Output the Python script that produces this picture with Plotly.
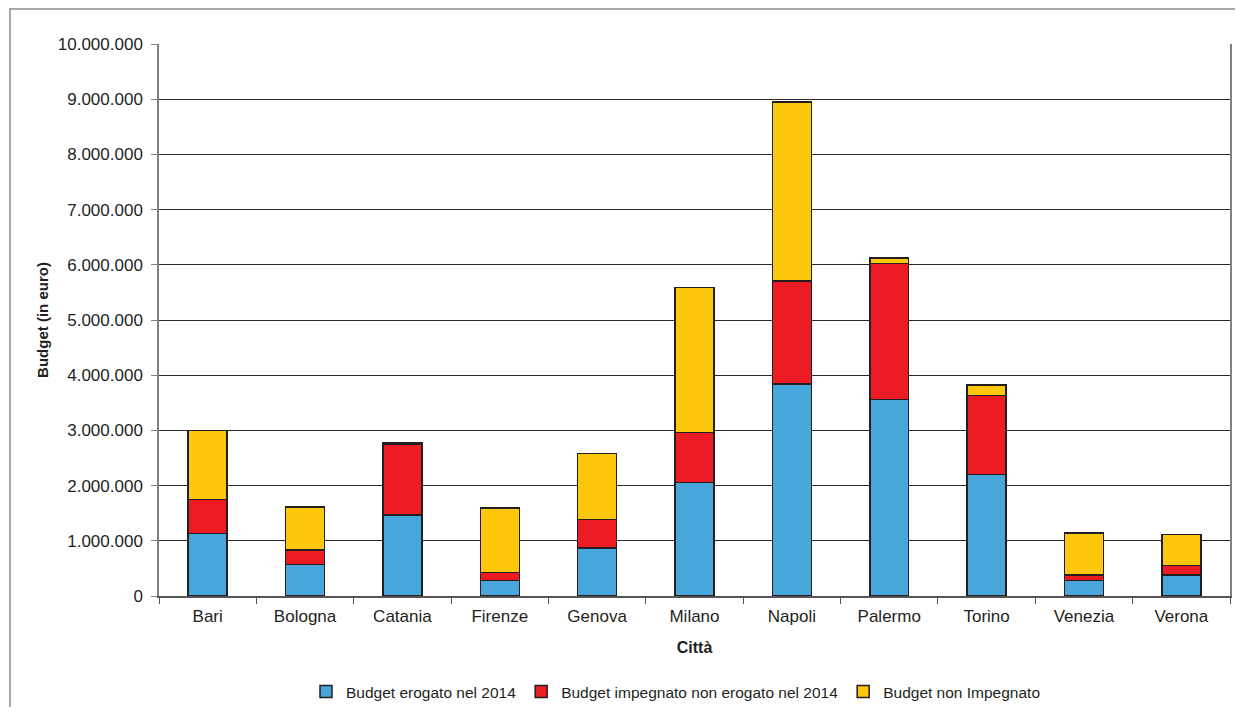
import plotly.graph_objects as go

cities = ["Bari", "Bologna", "Catania", "Firenze", "Genova", "Milano",
          "Napoli", "Palermo", "Torino", "Venezia", "Verona"]
erogato = [1130000, 574000, 1467000, 284000, 870000, 2060000,
           3840000, 3563000, 2200000, 281000, 379000]
impegnato_non_erogato = [620000, 260000, 1290000, 146000, 520000, 905000,
                         1870000, 2464000, 1430000, 98000, 171000]
non_impegnato = [1245000, 776000, 15000, 1160000, 1190000, 2620000,
                 3240000, 98000, 196000, 758000, 562000]

series_names = ["Budget erogato nel 2014",
                "Budget impegnato non erogato nel 2014",
                "Budget non Impegnato"]
series_values = [erogato, impegnato_non_erogato, non_impegnato]
series_colors = ["#49A6DB", "#ED1C24", "#FDC70C"]

y_ticks = list(range(0, 10000001, 1000000))

fig = go.Figure()
for name, vals, col in zip(series_names, series_values, series_colors):
    fig.add_trace(go.Bar(
        x=cities, y=vals, name=name,
        marker=dict(color=col, line=dict(color="#231F20", width=1.5)),
    ))

# page body has an 8px margin; keep the figure inside the viewport
OFF = 8
W, H = 1243 - 2 * OFF, 715 - 2 * OFF
L, R, T, B = 159 - OFF, 1230 - OFF, 44 - OFF, 596 - OFF
pw, ph = R - L, B - T

def px(x):
    return (x - OFF - L) / pw

def py(y):
    return (B - (y - OFF)) / ph

fig.update_layout(
    width=W, height=H,
    barmode="stack", bargap=0.6,
    separators=",.",
    plot_bgcolor="white", paper_bgcolor="white",
    margin=dict(l=L, r=W - R, t=T, b=H - B, pad=0, autoexpand=False),
    font=dict(family="Liberation Sans, Arial, sans-serif", size=17, color="#231F20"),
    showlegend=True,
    legend=dict(orientation="h", x=px(676), xanchor="center", y=py(692), yanchor="middle",
                font=dict(size=15.5, color="#231F20"), itemwidth=30,
                traceorder="normal", bgcolor="rgba(0,0,0,0)"),
    xaxis=dict(
        showgrid=False, showline=True, linecolor="#555555", linewidth=1.5,
        ticks="outside", tickson="boundaries", ticklen=6, tickcolor="#555555",
        tickfont=dict(size=17), ticklabelstandoff=4, automargin=False,
        title=dict(text="<b>Città</b>", font=dict(size=16), standoff=17),
        mirror=False,
    ),
    yaxis=dict(
        range=[0, 10000000], tickvals=y_ticks, tickformat=",d",
        showgrid=True, gridcolor="#2a2a2a", gridwidth=1,
        showline=True, linecolor="#808080", linewidth=1.5, mirror=True,
        ticks="outside", ticklen=6, tickcolor="#808080",
        tickfont=dict(size=17), ticklabelstandoff=5, automargin=False,
        title=dict(text="<b>Budget (in euro)</b>", font=dict(size=15), standoff=6),
        zeroline=False,
    ),
    shapes=[
        dict(type="rect", xref="paper", yref="paper",
             x0=px(10), x1=px(1300), y0=py(760), y1=py(9),
             line=dict(color="#8a8a8a", width=1.5), fillcolor="rgba(0,0,0,0)",
             layer="below"),
    ],
)

fig.write_html("out.html")
